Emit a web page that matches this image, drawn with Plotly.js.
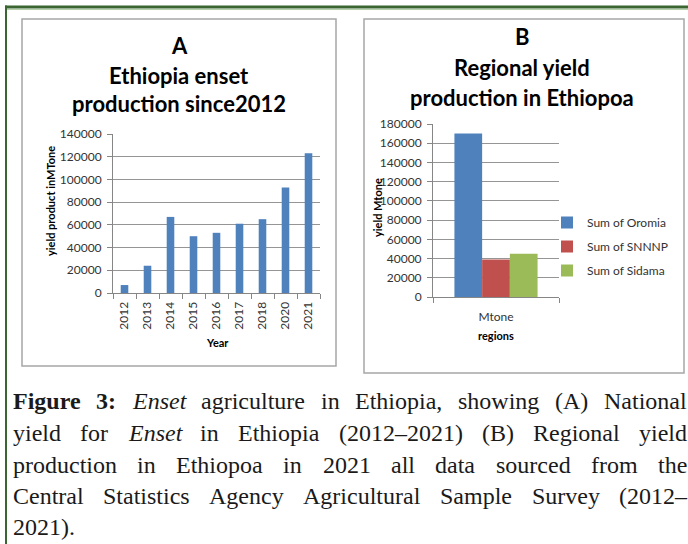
<!DOCTYPE html>
<html><head><meta charset="utf-8">
<script src="https://cdn.plot.ly/plotly-3.0.1.min.js"></script>
<style>html,body{margin:0;padding:0;background:#fff}#chart{width:688px;height:544px}</style>
</head><body><div id="chart"></div>
<script>
// ---- data ----
const years = ['2012','2013','2014','2015','2016','2017','2018','2020','2021'];
const nationalYield = [7000, 24000, 67000, 50000, 53000, 61000, 65000, 93000, 123000];
const regionCategory = ['Mtone'];
const regionNames = ['Sum of Oromia', 'Sum of SNNNP', 'Sum of Sidama'];
const regionYield = [170000, 39000, 45000];
const yTicksA = [0, 20000, 40000, 60000, 80000, 100000, 120000, 140000];
const yTicksB = [0, 20000, 40000, 60000, 80000, 100000, 120000, 140000, 160000, 180000];
const titleA = ['A', 'Ethiopia enset', 'production since2012'];
const titleB = ['B', 'Regional yield', 'production in Ethiopoa'];
const captionLines = [
  [['Figure','b'],['3:','b'],['Enset','i'],['agriculture'],['in'],['Ethiopia,'],['showing'],['(A)'],['National']],
  [['yield'],['for'],['Enset','i'],['in'],['Ethiopia'],['(2012–2021)'],['(B)'],['Regional'],['yield']],
  [['production'],['in'],['Ethiopoa'],['in'],['2021'],['all'],['data'],['sourced'],['from'],['the']],
  [['Central'],['Statistics'],['Agency'],['Agricultural'],['Sample'],['Survey'],['(2012–']],
  [['2021).']]
];

// ---- styling ----
const W = 688, H = 544;
const px = x => x / W, py = y => 1 - y / H;
const SANS = 'Lato, "Open Sans", sans-serif';
const SERIF = '"Liberation Serif", serif';
const BLUE = '#4f81bd', RED = '#c0504d', GREEN = '#9bbb59';
const regionColors = [BLUE, RED, GREEN];
const AX = '#868686', GRID = '#959595';

const traces = [{
  type: 'bar', x: years, y: nationalYield, xaxis: 'x', yaxis: 'y',
  marker: {color: BLUE}, width: 0.33, showlegend: false, hoverinfo: 'x+y'
}];
regionNames.forEach((n, i) => traces.push({
  type: 'bar', name: n, x: regionCategory, y: [regionYield[i]], xaxis: 'x2', yaxis: 'y2',
  marker: {color: regionColors[i]}, legendgroup: 'g' + i
}));

const tickFont = {family: SANS, size: 12, color: '#333'};
const axisBase = {showline: true, linecolor: AX, linewidth: 1, ticks: 'outside', ticklen: 5,
  tickcolor: AX, tickfont: tickFont, fixedrange: true, zeroline: false, ticklabelstandoff: 3};

const ann = [];
function txt(t, x, y, size, bold, extra) {
  ann.push(Object.assign({text: bold ? '<b>' + t + '</b>' : t, xref: 'paper', yref: 'paper',
    x: px(x), y: py(y), xanchor: 'center', yanchor: 'middle', showarrow: false,
    font: {family: SANS, size: size, color: '#000'}, borderpad: 0, borderwidth: 0}, extra || {}));
}
const tyA = [45, 75, 103], tyB = [37, 67, 97];
titleA.forEach((t, i) => txt(t, 179, tyA[i], 22, true));
titleB.forEach((t, i) => txt(t, 522, tyB[i], 22, true));
txt('Year', 217, 342, 11, true);
txt('regions', 496, 335, 11, true);
txt('yield product inMTone', 50, 201, 11, true, {textangle: -90});
txt('yield Mtone', 377, 208, 11, true, {textangle: -90});

// caption, justified from measured word widths
const cv = document.createElement('canvas').getContext('2d');
const CAP = 24, LEFT = 13, RIGHT = 687;
const capY = [401, 433, 465, 496, 527];
captionLines.forEach((words, li) => {
  const widths = words.map(([w, s]) => {
    cv.font = (s === 'b' ? 'bold ' : s === 'i' ? 'italic ' : '') + CAP + 'px "Liberation Serif"';
    return cv.measureText(w).width;
  });
  cv.font = CAP + 'px "Liberation Serif"';
  const space = cv.measureText(' ').width;
  const total = widths.reduce((a, b) => a + b, 0);
  const last = li === captionLines.length - 1;
  const gap = (last || words.length < 2) ? space : (RIGHT - LEFT - total) / (words.length - 1);
  let x = LEFT;
  words.forEach(([w, s], wi) => {
    const t = s === 'b' ? '<b>' + w + '</b>' : s === 'i' ? '<i>' + w + '</i>' : w;
    ann.push({text: t, xref: 'paper', yref: 'paper', x: px(x), y: py(capY[li]),
      xanchor: 'left', yanchor: 'middle', showarrow: false, borderpad: 0, borderwidth: 0,
      font: {family: SERIF, size: CAP, color: '#1a1a1a'}});
    x += widths[wi] + gap;
  });
});

const shapes = [
  // outer green frame
  {type: 'line', xref: 'paper', yref: 'paper', x0: px(5), x1: px(688), y0: py(7), y1: py(7), line: {color: '#3b6632', width: 3}},
  {type: 'line', xref: 'paper', yref: 'paper', x0: px(7), x1: px(688), y0: py(9.5), y1: py(9.5), line: {color: '#b5cfa8', width: 1}},
  {type: 'line', xref: 'paper', yref: 'paper', x0: px(6), x1: px(6), y0: py(5.5), y1: py(544), line: {color: '#3b6632', width: 2}},
  // panel boxes
  {type: 'rect', xref: 'paper', yref: 'paper', x0: px(22), x1: px(336), y0: py(19), y1: py(366), line: {color: '#a6a6a6', width: 1.5}, layer: 'below'},
  {type: 'rect', xref: 'paper', yref: 'paper', x0: px(364), x1: px(684), y0: py(19), y1: py(373), line: {color: '#a6a6a6', width: 1.5}, layer: 'below'}
];

const layout = {
  width: W, height: H, margin: {l: 0, r: 0, t: 0, b: 0},
  paper_bgcolor: '#fff', plot_bgcolor: 'rgba(0,0,0,0)',
  barmode: 'group', bargap: 0.34, bargroupgap: 0,
  xaxis: Object.assign({}, axisBase, {domain: [px(113), px(320)], anchor: 'y', type: 'category',
    tickangle: -90, tickson: 'boundaries'}),
  yaxis: Object.assign({}, axisBase, {domain: [py(293), py(134)], anchor: 'x', range: [0, 140000],
    tickvals: yTicksA, tickformat: 'd', showgrid: true, gridcolor: GRID, gridwidth: 1}),
  xaxis2: Object.assign({}, axisBase, {domain: [px(433), px(559)], anchor: 'y2', type: 'category',
    tickson: 'boundaries', ticklabelstandoff: 9}),
  yaxis2: Object.assign({}, axisBase, {domain: [py(297), py(124)], anchor: 'x2', range: [0, 180000],
    tickvals: yTicksB, tickformat: 'd', showgrid: true, gridcolor: GRID, gridwidth: 1}),
  showlegend: true,
  legend: {x: px(547), y: py(208), xanchor: 'left', yanchor: 'top', traceorder: 'grouped',
    tracegroupgap: 5, font: {family: SANS, size: 12, color: '#333'}, bgcolor: 'rgba(0,0,0,0)'},
  annotations: ann, shapes: shapes
};

Plotly.newPlot('chart', traces, layout, {displayModeBar: false, staticPlot: true});
</script></body></html>
